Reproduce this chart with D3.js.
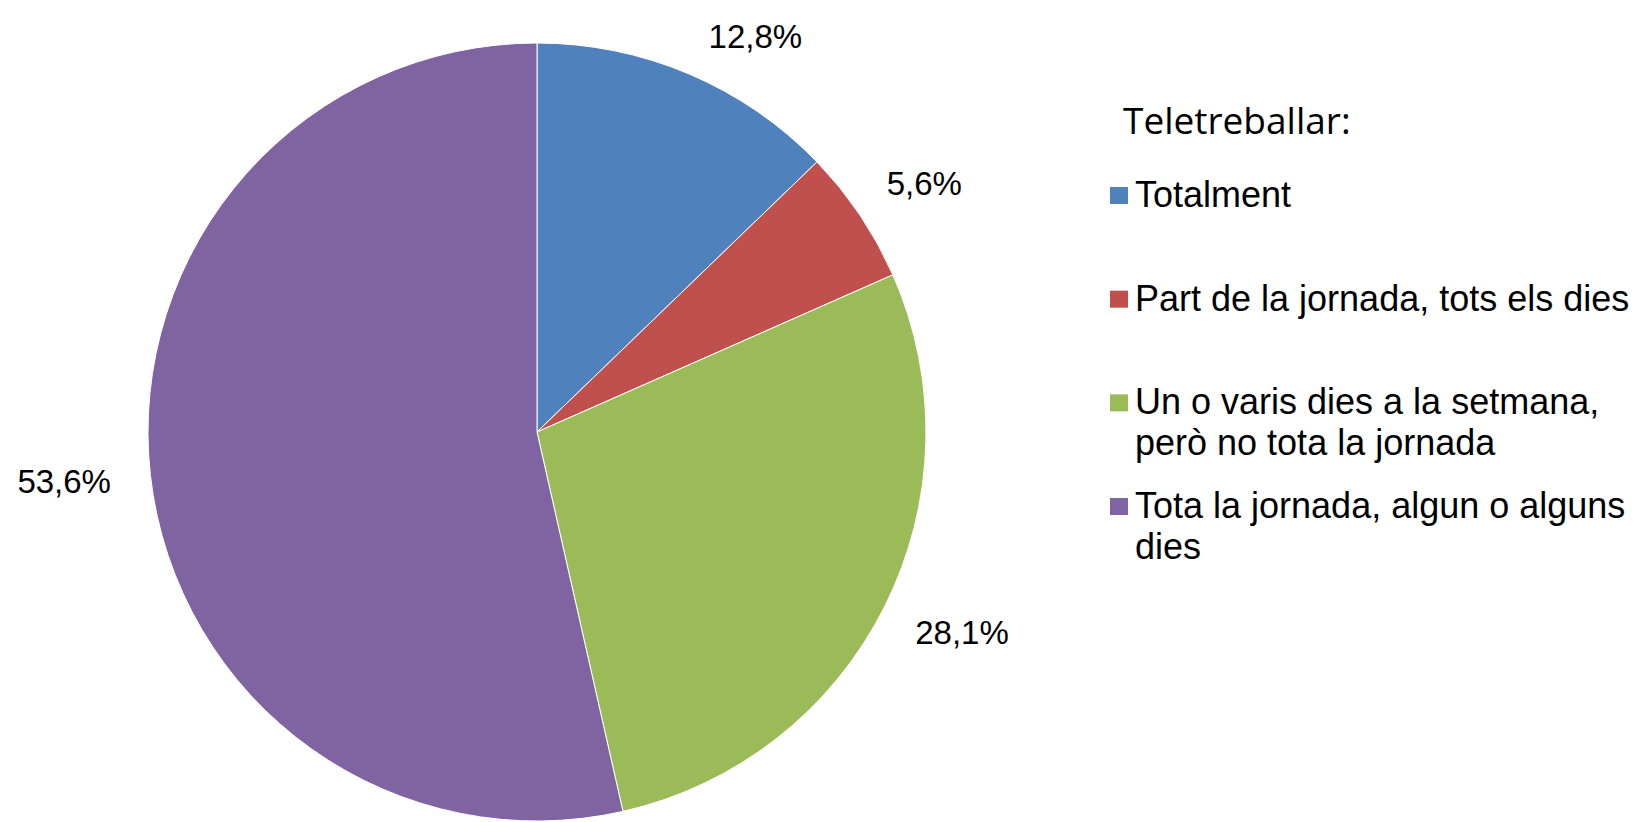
<!DOCTYPE html>
<html>
<head>
<meta charset="utf-8">
<script src="https://cdn.jsdelivr.net/npm/d3@7"></script>
<style>
    html, body { margin: 0; padding: 0; background: #fff; }
    svg { display: block; }
</style>
</head>
<body>
<svg id="chart" width="1637" height="822"></svg>
<script>
(function () {
    'use strict';

    var legendTitle = 'Teletreballar:';
    var categories = [
        'Totalment',
        'Part de la jornada, tots els dies',
        'Un o varis dies a la setmana, però no tota la jornada',
        'Tota la jornada, algun o alguns dies'
    ];
    // legend lines as wrapped in the original
    var legendLines = [
        ['Totalment'],
        ['Part de la jornada, tots els dies'],
        ['Un o varis dies a la setmana,', 'però no tota la jornada'],
        ['Tota la jornada, algun o alguns', 'dies']
    ];
    var values = [12.8, 5.6, 28.1, 53.6];
    var colors = ['#4F81BD', '#C0504D', '#9BBB59', '#8064A2'];

    var cx = 537, cy = 432, radius = 389;
    var labelGap = 40;
    var labelFont = 'Liberation Sans, Arial, sans-serif';

    var svg = d3.select('#chart');

    var color = d3.scaleOrdinal().domain(categories).range(colors);

    var pie = d3.pie()
        .value(function (d) { return d.value; })
        .sort(null);

    var data = categories.map(function (c, i) {
        return { name: c, value: values[i], lines: legendLines[i] };
    });
    var arcs = pie(data);

    var arc = d3.arc().innerRadius(0).outerRadius(radius);

    var g = svg.append('g')
        .attr('transform', 'translate(' + cx + ',' + cy + ')');

    g.selectAll('path.slice')
        .data(arcs)
        .enter()
        .append('path')
        .attr('class', 'slice')
        .attr('d', arc)
        .attr('fill', function (d) { return color(d.data.name); })
        .attr('stroke', '#fff')
        .attr('stroke-width', 1);

    var fmt = function (v) { return d3.format('.1f')(v).replace('.', ',') + '%'; };

    // labels: "outside end" style, box pushed outward from a point just past the rim
    var labels = g.selectAll('text.label')
        .data(arcs)
        .enter()
        .append('text')
        .attr('class', 'label')
        .attr('font-family', labelFont)
        .attr('font-size', 33)
        .attr('fill', '#000')
        .attr('text-anchor', 'middle')
        .attr('dominant-baseline', 'central')
        .text(function (d) { return fmt(d.data.value); });

    labels.each(function (d) {
        var w = this.getComputedTextLength(), h = 33;
        var a = (d.startAngle + d.endAngle) / 2;
        var pos = function (ang) {
            var R = radius + labelGap;
            var x = R * Math.sin(ang) + Math.sin(ang) * w / 2;
            var y = -R * Math.cos(ang) - Math.cos(ang) * h / 2;
            return [x, y];
        };
        var p = pos(a);
        // keep label inside the top of the chart area
        while (p[1] + cy < 36 && a < d.endAngle) {
            a += 0.005;
            p = pos(a);
        }
        d3.select(this).attr('x', p[0]).attr('y', p[1]);
    });

    // legend
    var legend = svg.append('g')
        .attr('transform', 'translate(1110,0)');

    legend.append('text')
        .attr('x', 13)
        .attr('y', 134)
        .attr('font-family', 'Open Sans, sans-serif')
        .attr('font-size', 37)
        .attr('fill', '#000')
        .text(legendTitle);

    var rowY = d3.scaleLinear().domain([0, 3]).range([207, 518]);

    var item = legend.selectAll('g.item')
        .data(data)
        .enter()
        .append('g')
        .attr('class', 'item')
        .attr('transform', function (d, i) { return 'translate(0,' + rowY(i) + ')'; });

    item.append('rect')
        .attr('x', 0)
        .attr('y', -20)
        .attr('width', 18)
        .attr('height', 17)
        .attr('fill', function (d) { return color(d.name); });

    item.append('text')
        .attr('font-family', labelFont)
        .attr('font-size', 36)
        .attr('fill', '#000')
        .selectAll('tspan')
        .data(function (d) { return d.lines; })
        .enter()
        .append('tspan')
        .attr('x', 25)
        .attr('y', function (d, i) { return i * 41; })
        .text(function (d) { return d; });
}());
</script>
</body>
</html>
